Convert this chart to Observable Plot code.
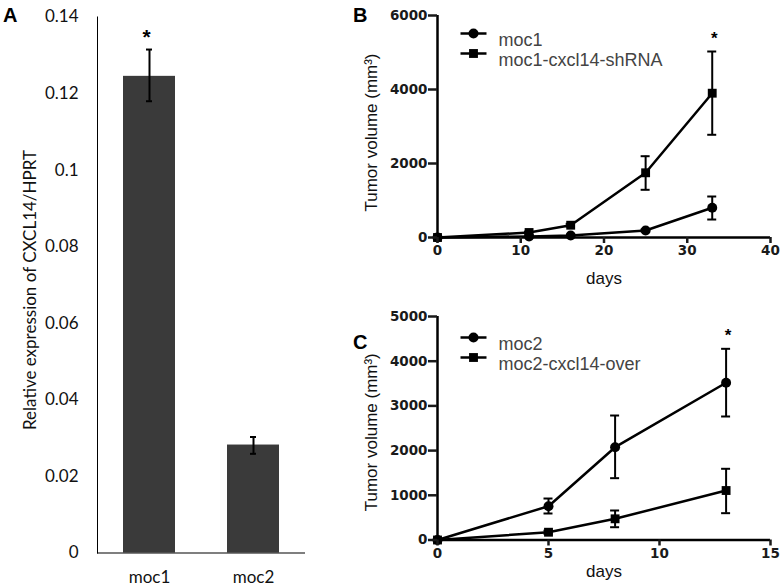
<!DOCTYPE html>
<html><head><meta charset="utf-8">
<script src="https://cdn.jsdelivr.net/npm/d3@7"></script>
<script src="https://cdn.jsdelivr.net/npm/@observablehq/plot@0.6"></script>
<style>
body{margin:0;background:#fff;}
#wrap{position:relative;width:781px;height:588px;overflow:hidden;background:#fff;}
#wrap svg{position:absolute;overflow:visible;}
.plab{position:absolute;font:bold 20px "Liberation Sans",Arial,sans-serif;color:#000;line-height:1;}
</style></head><body>
<div id="wrap"></div>
<script>
// ---------- Panel A data ----------
const catsA = ["moc1", "moc2"];
const meanA = [0.1245, 0.0282];
const lowA = [0.1180, 0.0259];
const highA = [0.1315, 0.0303];
const sigA = ["*", ""];
const yTicksA = [0, 0.02, 0.04, 0.06, 0.08, 0.1, 0.12, 0.14];
const yTickLabelsA = ["0", "0.02", "0.04", "0.06", "0.08", "0.1", "0.12", "0.14"];
const titleA = "Relative expression of CXCL14/HPRT";

// ---------- Panel B data ----------
const namesB = ["moc1", "moc1-cxcl14-shRNA"];
const daysB = [0, 11, 16, 25, 33];
const moc1Mean = [0, 30, 54, 189, 803];
const moc1Low = [0, 30, 54, 165, 486];
const moc1High = [0, 30, 54, 215, 1108];
const shMean = [0, 135, 332, 1749, 3900];
const shLow = [0, 110, 295, 1289, 2776];
const shHigh = [0, 160, 370, 2197, 5027];
const sigB = ["", "", "", "", "*"];
const xTicksB = [0, 10, 20, 30, 40];
const yTicksB = [0, 2000, 4000, 6000];

// ---------- Panel C data ----------
const namesC = ["moc2", "moc2-cxcl14-over"];
const daysC = [0, 5, 8, 13];
const moc2Mean = [0, 756, 2076, 3517];
const moc2Low = [0, 593, 1383, 2763];
const moc2High = [0, 928, 2785, 4277];
const overMean = [0, 174, 474, 1107];
const overLow = [0, 140, 286, 600];
const overHigh = [0, 208, 660, 1593];
const sigC = ["", "", "", "*"];
const xTicksC = [0, 5, 10, 15];
const yTicksC = [0, 1000, 2000, 3000, 4000, 5000];

const yTitle = "Tumor volume (mm³)";
const xTitle = "days";

const wrap = document.getElementById("wrap");

// ---------- Panel A ----------
const tableA = catsA.map((c, i) => ({cat: c, mean: meanA[i], lo: lowA[i], hi: highA[i], sig: sigA[i]}));
const fontA = "Lato, 'Open Sans', sans-serif";
const plotA = Plot.plot({
  width: 320, height: 588,
  marginLeft: 97, marginRight: 15, marginTop: 16.5, marginBottom: 35.5,
  style: {background: "transparent", overflow: "visible", color: "#111", fontFamily: fontA},
  x: {domain: catsA, paddingInner: 0.5, paddingOuter: 0.25, label: null},
  y: {domain: [0, 0.14], label: null},
  marks: [
    Plot.barY(tableA, {x: "cat", y: "mean", fill: "#3a3a3a"}),
    Plot.ruleX(tableA, {x: "cat", y1: "lo", y2: "hi", stroke: "#000", strokeWidth: 2}),
    Plot.tickY(tableA, {x: "cat", y: "lo", insetLeft: 23, insetRight: 23, stroke: "#000", strokeWidth: 2}),
    Plot.tickY(tableA, {x: "cat", y: "hi", insetLeft: 23, insetRight: 23, stroke: "#000", strokeWidth: 2}),
    Plot.text(tableA, {x: "cat", y: "hi", text: "sig", dx: -3, dy: -12, fontSize: 21, fontWeight: "bold", fontFamily: "'Liberation Sans', Arial, sans-serif", fill: "#000"}),
    Plot.frame({anchor: "left", stroke: "#000", strokeWidth: 1}),
    Plot.ruleY([0], {stroke: "#000", strokeWidth: 1.2}),
    Plot.axisY({ticks: yTicksA, tickFormat: d => yTickLabelsA[yTicksA.indexOf(d)], tickSize: 0, tickPadding: 19, fontSize: 17, fontFamily: fontA, label: null}),
    Plot.axisX({tickSize: 0, tickPadding: 18, fontSize: 17, fontFamily: fontA, label: null}),
    Plot.text([titleA], {frameAnchor: "left", text: d => d, textAnchor: "middle", rotate: -90, dx: -67, dy: 5, fontSize: 17, fontFamily: fontA, fill: "#111"})
  ]
});
plotA.style.left = "0px"; plotA.style.top = "0px";
wrap.appendChild(plotA);

// ---------- Growth panels ----------
const dashSymbol = {draw(ctx, size) { ctx.moveTo(-13, 0); ctx.lineTo(13, 0); }};
const symbolsBC = ["circle", "square"];
const tickFont = "'DejaVu Sans', sans-serif";
const textFont = "'Liberation Sans', Arial, sans-serif";

function growthPanel(cfg) {
  const rows = [];
  cfg.names.forEach((n, s) => cfg.days.forEach((d, i) => rows.push({series: n, day: d, mean: cfg.means[s][i], lo: cfg.lows[s][i], hi: cfg.highs[s][i]})));
  const errRows = rows.filter(r => r.hi > r.lo);
  const sigRows = cfg.days.map((d, i) => ({day: d, hi: Math.max(...cfg.highs.map(h => h[i])), sig: cfg.sig[i]})).filter(r => r.sig);
  const legendMarks = cfg.names.flatMap((n, i) => [
    Plot.dot([n], {frameAnchor: "top-left", dx: 36, dy: cfg.legendDy + 20 * i, symbol: dashSymbol, r: 5, stroke: "#000", strokeWidth: 2.5, fill: "none"}),
    Plot.dot([n], {frameAnchor: "top-left", dx: 36, dy: cfg.legendDy + 20 * i, symbol: symbolsBC[i], r: 5, fill: "#000", stroke: "none"}),
    Plot.text([n], {frameAnchor: "top-left", dx: 61, dy: cfg.legendDy + 20 * i, text: d => d, textAnchor: "start", fontSize: 18, fontFamily: textFont, fill: "#444"})
  ]);
  const p = Plot.plot({
    width: 441, height: cfg.height,
    marginLeft: 97, marginRight: 11, marginTop: cfg.marginTop, marginBottom: cfg.marginBottom,
    style: {background: "transparent", overflow: "visible", color: "#1a1a1a"},
    x: {domain: cfg.xDomain, label: null},
    y: {domain: cfg.yDomain, label: null},
    symbol: {domain: cfg.names, range: symbolsBC},
    marks: [
      Plot.ruleX(errRows, {x: "day", y1: "lo", y2: "hi", stroke: "#000", strokeWidth: 2}),
      Plot.ruleY(errRows, {y: "lo", x1: "day", x2: "day", insetLeft: -4.5, insetRight: -4.5, stroke: "#000", strokeWidth: 2}),
      Plot.ruleY(errRows, {y: "hi", x1: "day", x2: "day", insetLeft: -4.5, insetRight: -4.5, stroke: "#000", strokeWidth: 2}),
      Plot.line(rows, {x: "day", y: "mean", z: "series", stroke: "#000", strokeWidth: 2.5}),
      Plot.dot(rows, {x: "day", y: "mean", symbol: "series", r: 5, fill: "#000", stroke: "none"}),
      Plot.text(sigRows, {x: "day", y: "hi", text: "sig", dx: 2, dy: -13, fontSize: 17, fontWeight: "bold", fontFamily: textFont, fill: "#000"}),
      Plot.ruleX([0], {stroke: "#000", strokeWidth: 2.5}),
      Plot.ruleY([0], {stroke: "#000", strokeWidth: 2.5}),
      Plot.axisY({ticks: cfg.yTicks, tickFormat: d => String(d), tickSize: 9, tickPadding: 1, strokeWidth: 2.5, fontSize: 13.5, fontWeight: "bold", fontFamily: tickFont, label: null}),
      Plot.axisX({ticks: cfg.xTicks, tickFormat: d => String(d), tickSize: 6, tickPadding: 2, strokeWidth: 2.5, fontSize: 13.5, fontWeight: "bold", fontFamily: tickFont, label: null}),
      Plot.text([xTitle], {frameAnchor: "bottom", text: d => d, dy: cfg.xTitleDy, fontSize: 17, fontFamily: textFont, fill: "#111"}),
      Plot.text([yTitle], {frameAnchor: "left", text: d => d, textAnchor: "middle", rotate: -90, dx: -66, dy: cfg.yTitleDy, fontSize: 17, fontFamily: textFont, fill: "#111"}),
      ...legendMarks
    ]
  });
  p.style.left = "340px"; p.style.top = cfg.top + "px";
  wrap.appendChild(p);
}

growthPanel({
  names: namesB, days: daysB,
  means: [moc1Mean, shMean], lows: [moc1Low, shLow], highs: [moc1High, shHigh], sig: sigB,
  xDomain: [0, 40], xTicks: xTicksB, yDomain: [0, 6000], yTicks: yTicksB,
  top: 0, height: 300, marginTop: 15, marginBottom: 63, legendDy: 18, xTitleDy: 46, yTitleDy: 6
});
growthPanel({
  names: namesC, days: daysC,
  means: [moc2Mean, overMean], lows: [moc2Low, overLow], highs: [moc2High, overHigh], sig: sigC,
  xDomain: [0, 15], xTicks: xTicksC, yDomain: [0, 5000], yTicks: yTicksC,
  top: 300, height: 288, marginTop: 16, marginBottom: 48.5, legendDy: 21, xTitleDy: 37, yTitleDy: 4
});

// ---------- Panel letters ----------
[["A", 3, 5], ["B", 353, 5], ["C", 353, 332]].forEach(([t, x, y]) => {
  const d = document.createElement("div");
  d.className = "plab"; d.textContent = t;
  d.style.left = x + "px"; d.style.top = y + "px";
  wrap.appendChild(d);
});
</script></body></html>
